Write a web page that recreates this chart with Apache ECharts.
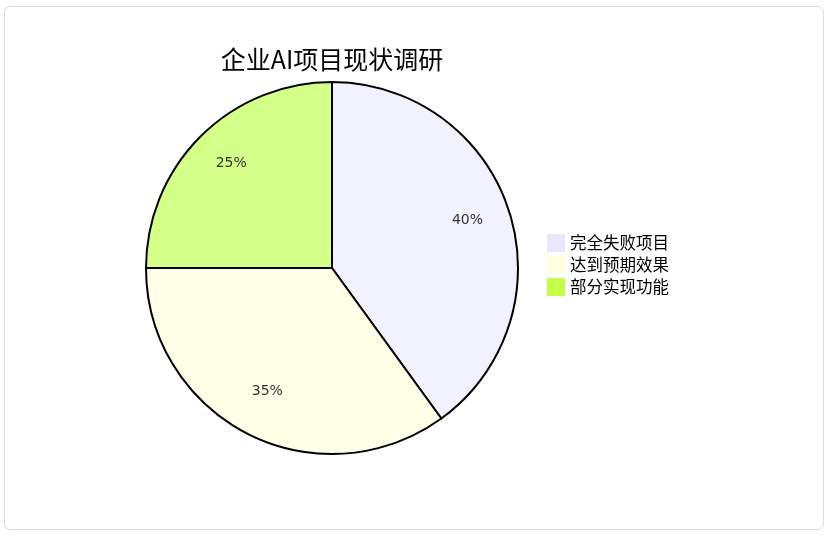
<!DOCTYPE html>
<html lang="zh">
<head>
    <meta charset="UTF-8">
    <script src="https://cdn.jsdelivr.net/npm/echarts@6/dist/echarts.min.js"></script>
    <title>企业AI项目现状调研</title>
    <style>
        body {
            margin: 0;
            background: #ffffff;
        }

        /* 外框 */
        .frame {
            position: absolute;
            left: 4px;
            top: 6px;
            width: 818px;
            height: 522px;
            border: 1px solid #dcdcdc;
            border-radius: 6px;
        }

        #chart {
            position: absolute;
            left: 0;
            top: 0;
            width: 828px;
            height: 536px;
        }
    </style>
</head>
<body>
    <div class="frame"></div>
    <div id="chart"></div>

    <script>
        // 数据
        var categories = ['完全失败项目', '达到预期效果', '部分实现功能'];
        var values = [40, 35, 25];
        var sliceColors = ['#f2f2ff', '#ffffe8', '#d4ff88'];
        var legendColors = ['#e8e8fd', '#ffffdf', '#c2ff45'];

        var pieData = categories.map(function (name, i) {
            return { name: name, value: values[i], itemStyle: { color: sliceColors[i] } };
        });

        var chart = echarts.init(document.getElementById('chart'), null, { renderer: 'canvas' });

        var option = {
            animation: false,
            title: {
                text: '企业AI项目现状调研',
                left: 327,
                textAlign: 'center',
                top: 42,
                textStyle: {
                    fontFamily: 'Noto Sans CJK SC',
                    fontSize: 25,
                    fontWeight: 'normal',
                    color: '#000'
                }
            },
            legend: {
                orient: 'vertical',
                left: 542,
                top: 229,
                icon: 'rect',
                itemWidth: 18,
                itemHeight: 18,
                itemGap: 4,
                selectedMode: false,
                textStyle: {
                    fontFamily: 'Noto Sans CJK SC',
                    fontSize: 16.5,
                    color: '#000',
                    lineHeight: 18
                },
                data: categories.map(function (name, i) {
                    return { name: name, itemStyle: { color: legendColors[i], borderWidth: 0 } };
                })
            },
            series: [
                {
                    type: 'pie',
                    center: [332, 268],
                    radius: 186,
                    startAngle: 90,
                    clockwise: true,
                    silent: true,
                    label: { show: false },
                    labelLine: { show: false },
                    itemStyle: { borderColor: '#000', borderWidth: 2 },
                    data: pieData
                },
                {
                    // 标签层: 放在 0.75 半径处, 略微上移
                    type: 'pie',
                    center: [332, 264],
                    radius: [93, 186],
                    startAngle: 90,
                    clockwise: true,
                    silent: true,
                    legendHoverLink: false,
                    itemStyle: { color: 'rgba(0,0,0,0)', borderWidth: 0 },
                    label: {
                        show: true,
                        position: 'inside',
                        formatter: '{c}%',
                        fontFamily: 'DejaVu Sans',
                        fontSize: 14,
                        color: '#333'
                    },
                    labelLine: { show: false },
                    data: categories.map(function (name, i) {
                        return { name: name, value: values[i] };
                    })
                }
            ]
        };

        chart.setOption(option);
    </script>
</body>
</html>
